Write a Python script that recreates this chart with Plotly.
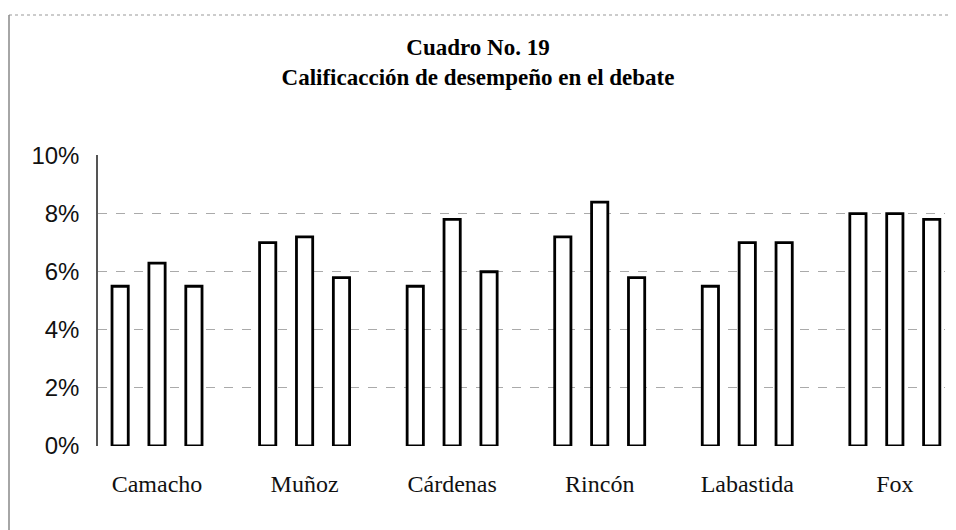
import plotly.graph_objects as go

categories = ["Camacho", "Muñoz", "Cárdenas", "Rincón", "Labastida", "Fox"]
series_1 = [5.5, 7.0, 5.5, 7.2, 5.5, 8.0]
series_2 = [6.3, 7.2, 7.8, 8.4, 7.0, 8.0]
series_3 = [5.5, 5.8, 6.0, 5.8, 7.0, 7.8]
y_ticks = [0, 2, 4, 6, 8, 10]
y_tick_labels = ["0%", "2%", "4%", "6%", "8%", "10%"]
title_lines = ["Cuadro No. 19", "Calificacción de desempeño en el debate"]

fig = go.Figure()
for vals in (series_1, series_2, series_3):
    fig.add_trace(go.Bar(
        x=categories, y=vals,
        marker=dict(color="white", line=dict(color="black", width=2.8)),
        showlegend=False,
    ))

# page body adds an 8px offset; margins compensate
OFF = 8
W, H = 956, 530
L, T = 98 - OFF, 155 - OFF
R = W - (945 - OFF)
B = H - (446 - OFF)
pw, ph = W - L - R, H - T - B

fig.update_layout(
    width=W, height=H,
    margin=dict(l=L, r=R, t=T, b=B),
    paper_bgcolor="white", plot_bgcolor="white",
    barmode="group", bargap=0.25, bargroupgap=0.56,
    title=dict(
        text="<b>" + title_lines[0] + "</b><br><b>" + title_lines[1] + "</b>",
        x=(478 - OFF) / W, xanchor="center", y=1 - (55 - OFF) / H, yanchor="middle",
        font=dict(family="Liberation Serif", size=23, color="black"),
    ),
    xaxis=dict(
        range=[-0.40, 5.34], showgrid=False, zeroline=False, showline=False,
        ticks="outside", ticklen=16, tickcolor="rgba(0,0,0,0)",
        tickfont=dict(family="Liberation Serif", size=24, color="#111"),
    ),
    yaxis=dict(
        range=[0, 10.02], tickvals=y_ticks, ticktext=y_tick_labels,
        showgrid=True, gridcolor="#aaa", griddash="dash", gridwidth=1,
        zeroline=False, showline=True, linecolor="#555", linewidth=1.5,
        ticks="outside", ticklen=12, tickcolor="rgba(0,0,0,0)",
        tickfont=dict(family="Liberation Sans", size=24, color="#111"),
    ),
)

def px_x(px):
    return (px - OFF - L) / pw

def px_y(py):
    return (H - B - (py - OFF)) / ph

frame_left = OFF + 1
fig.add_shape(type="line", xref="paper", yref="paper",
              x0=px_x(frame_left), x1=px_x(950), y0=px_y(15), y1=px_y(15),
              line=dict(color="#999", width=1, dash="dot"))
fig.add_shape(type="line", xref="paper", yref="paper",
              x0=px_x(frame_left), x1=px_x(frame_left), y0=px_y(15), y1=px_y(540),
              line=dict(color="#888", width=1.5))

fig.write_html("out.html")
